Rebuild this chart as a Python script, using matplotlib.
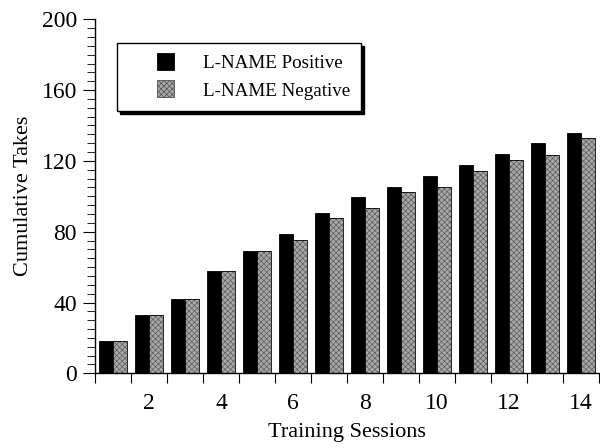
import matplotlib
matplotlib.use("Agg")
import matplotlib.pyplot as plt
import numpy as np
from matplotlib.patches import Rectangle
from matplotlib.legend_handler import HandlerPatch
from matplotlib.ticker import MultipleLocator, FixedLocator

sessions = list(range(1, 15))
positive = [18, 33, 42, 58, 69, 78.5, 90.5, 99.5, 105.5, 111.5, 117.5, 124, 130, 136]
negative = [18, 33, 42, 58, 69, 75.5, 87.5, 93.5, 102.5, 105.5, 114.5, 120.5, 123.5, 133]
xticks = [2, 4, 6, 8, 10, 12, 14]
yticks = [0, 40, 80, 120, 160, 200]
labels = ["L-NAME Positive", "L-NAME Negative"]

plt.rcParams['font.family'] = ['Liberation Serif', 'DejaVu Serif']
plt.rcParams['hatch.linewidth'] = 0.5

GRAY_FACE = '#a8a8a8'
GRAY_HATCH = '#5c5c5c'

fig = plt.figure(figsize=(6.0, 4.48), dpi=100)
ax = fig.add_axes([95/600, (448-373.3)/448, 504/600, 354/448])

x = np.array(sessions, dtype=float)
w = 0.4
ax.bar(x - w/2, positive, width=w, color='black', edgecolor='black', linewidth=0.6)
# gray stippled bars: textured fill, then black outline on top
ax.bar(x + w/2, negative, width=w, facecolor=GRAY_FACE, edgecolor=GRAY_HATCH,
       linewidth=0, hatch='xxxxxx')
ax.bar(x + w/2, negative, width=w, fill=False, edgecolor='black', linewidth=0.6)

ax.set_xlim(0.5, 14.5)
ax.set_ylim(0, 200)
ax.spines['top'].set_visible(False)
ax.spines['right'].set_visible(False)
ax.spines['left'].set_linewidth(1.0)
ax.spines['bottom'].set_linewidth(1.0)

ax.set_yticks(yticks)
ax.yaxis.set_minor_locator(MultipleLocator(5))
ax.tick_params(axis='y', which='major', length=9, width=0.8, labelsize=17, pad=4)
ax.tick_params(axis='y', which='minor', length=6, width=0.6)

ax.set_xticks(xticks)
ax.xaxis.set_minor_locator(FixedLocator(np.arange(0.5, 15.0, 1.0)))
ax.tick_params(axis='x', which='major', length=0, labelsize=17, pad=14)
ax.tick_params(axis='x', which='minor', length=7, width=0.8)

ax.set_xlabel("Training Sessions", fontsize=16, labelpad=7)
ax.set_ylabel("Cumulative Takes", fontsize=16, labelpad=6)

h1 = Rectangle((0, 0), 1, 1, facecolor='black', edgecolor='black', linewidth=0.6)
h2 = Rectangle((0, 0), 1, 1, facecolor=GRAY_FACE, edgecolor='#505050', linewidth=0.6,
               hatch='xxxxxx')


def make_square(legend, orig_handle, xdescent, ydescent, width, height, fontsize):
    s = 17.0 * 72 / 100
    cx = -xdescent + width * 0.50
    cy = -ydescent + height / 2
    return Rectangle((cx - s/2, cy - s/2), s, s)


leg = ax.legend(handles=[h1, h2], labels=labels, loc='upper left',
                bbox_to_anchor=(22/504, 1 - 23.7/354), borderaxespad=0,
                fontsize=13.7, frameon=True, fancybox=False, edgecolor='black',
                shadow={'color': 'black', 'alpha': 1.0},
                handlelength=3.9, handleheight=0.7, handletextpad=0.0,
                borderpad=0.6, labelspacing=0.55,
                handler_map={Rectangle: HandlerPatch(patch_func=make_square)})
leg.get_frame().set_linewidth(1.0)

fig.savefig("out.png", dpi=100)
